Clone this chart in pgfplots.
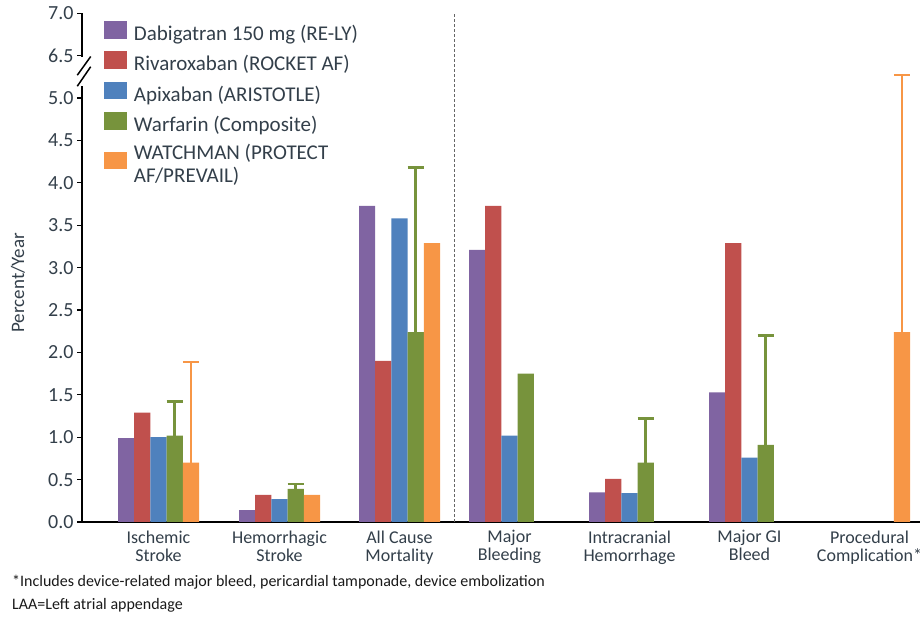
\documentclass[border=0pt]{standalone}
\usepackage{fontspec}
\setmainfont{Carlito}
\usepackage{pgfplots}
\pgfplotsset{compat=1.18}
\definecolor{cPurple}{HTML}{8064A2}
\definecolor{cRed}{HTML}{C0504D}
\definecolor{cBlue}{HTML}{4F81BD}
\definecolor{cGreen}{HTML}{77933C}
\definecolor{cOrange}{HTML}{F79646}
\definecolor{txt}{HTML}{333F4A}
\pgfplotsset{sq/.style={legend image code/.code={\fill[#1] (0pt,-5pt) rectangle (23pt,12.4pt);}}}
\begin{document}
\begin{tikzpicture}
\useasboundingbox (0,0) rectangle (923pt,617pt);
\begin{axis}[
  at={(82pt,95pt)}, anchor=south west,
  scale only axis, width=838pt, height=508.7pt,
  xmin=82, xmax=920, ymin=0, ymax=6,
  clip=false,
  axis x line=bottom, axis y line=left,
  x axis line style={-, line width=2pt, black},
  y axis line style={draw=none},
  ybar, bar width=16.2,
  xtick={158.5,279.5,399.5,509.5,629.5,749.5,869.5},
  xticklabels={Ischemic\\Stroke, Hemorrhagic\\Stroke, All Cause\\Mortality, Major\\Bleeding, Intracranial\\Hemorrhage, Major GI\\Bleed, Procedural\\Complication*},
  x tick style={draw=none},
  xticklabel style={align=center, font=\fontsize{18}{18}\selectfont, text=txt},
  ytick={0,0.5,1,1.5,2,2.5,3,3.5,4,4.5,5,5.5,6},
  yticklabels={0.0,0.5,1.0,1.5,2.0,2.5,3.0,3.5,4.0,4.5,5.0,6.5,7.0},
  y tick style={black, line width=1.2pt},
  tick align=outside, major tick length=5pt,
  yticklabel style={font=\fontsize{20}{20}\selectfont, text=txt},
  ylabel={Percent/Year},
  ylabel style={at={(axis description cs:-0.0764,0.47)}, anchor=center, font=\fontsize{19}{19}\selectfont, text=txt},
  legend cell align=left,
  legend style={at={(axis description cs:0.026,0.985)}, anchor=north west, draw=none, fill=none, inner sep=0pt,
    font=\fontsize{21}{23}\selectfont, nodes={align=left, text=txt}, row sep=7.5pt,
    /tikz/every odd column/.append style={column sep=5pt}},
]
\addplot[fill=cPurple, draw=none, bar shift=-32.4, sq=cPurple] coordinates {(158.5,0.99) (279.5,0.14) (399.5,3.73) (509.5,3.21) (629.5,0.35) (749.5,1.53)};
\addlegendentry{Dabigatran 150 mg (RE-LY)}
\addplot[fill=cRed, draw=none, bar shift=-16.2, sq=cRed] coordinates {(158.5,1.29) (279.5,0.32) (399.5,1.90) (509.5,3.73) (629.5,0.51) (749.5,3.29)};
\addlegendentry{Rivaroxaban (ROCKET AF)}
\addplot[fill=cBlue, draw=none, bar shift=0, sq=cBlue] coordinates {(158.5,1.00) (279.5,0.27) (399.5,3.58) (509.5,1.02) (629.5,0.34) (749.5,0.76)};
\addlegendentry{Apixaban (ARISTOTLE)}
\addplot[fill=cGreen, draw=none, bar shift=16.2, sq=cGreen] coordinates {(158.5,1.02) (279.5,0.39) (399.5,2.24) (509.5,1.75) (629.5,0.70) (749.5,0.91)};
\addlegendentry{Warfarin (Composite)}
\addplot[fill=cOrange, draw=none, bar shift=32.4, sq=cOrange] coordinates {(158.5,0.70) (279.5,0.32) (399.5,3.29) (869.5,2.24)};
\addlegendentry{WATCHMAN (PROTECT\\AF/PREVAIL)}
% error bars (upper only)
\addplot[forget plot, fill=none, draw=none, bar shift=16.2,
  error bars/.cd, y dir=plus, y explicit,
  error bar style={line width=2.5pt, cGreen},
  error mark options={rotate=90, mark size=8.1pt, line width=2.5pt, cGreen}]
  coordinates {(158.5,1.02) +- (0,0.40) (279.5,0.39) +- (0,0.06) (399.5,2.24) +- (0,1.94) (629.5,0.70) +- (0,0.52) (749.5,0.91) +- (0,1.29)};
\addplot[forget plot, fill=none, draw=none, bar shift=32.4,
  error bars/.cd, y dir=plus, y explicit,
  error bar style={line width=2.5pt, cOrange},
  error mark options={rotate=90, mark size=8.1pt, line width=2.5pt, cOrange}]
  coordinates {(158.5,0.70) +- (0,1.19) (869.5,2.24) +- (0,3.03)};
% divider
\draw[dash pattern=on 3pt off 2pt, line width=1.3pt, black!60] (axis cs:454.5,0) -- (axis cs:454.5,6);
% y axis line with break
\draw[line width=2pt, black] (axis cs:82,0) -- (axis cs:82,5.14);
\draw[line width=2pt, black] (axis cs:82,5.49) -- (axis cs:82,6);
\draw[line width=1.5pt, black] (axis cs:90.7,5.49) -- (axis cs:77.3,5.27);
\draw[line width=1.5pt, black] (axis cs:90.7,5.37) -- (axis cs:77.3,5.14);
\end{axis}
\node[anchor=west, inner sep=0pt, font=\fontsize{16}{16}\selectfont, text=black!90] at (12pt,35pt) {*Includes device-related major bleed, pericardial tamponade, device embolization};
\node[anchor=west, inner sep=0pt, font=\fontsize{16}{16}\selectfont, text=black!90] at (12pt,12pt) {LAA=Left atrial appendage};
\end{tikzpicture}
\end{document}
